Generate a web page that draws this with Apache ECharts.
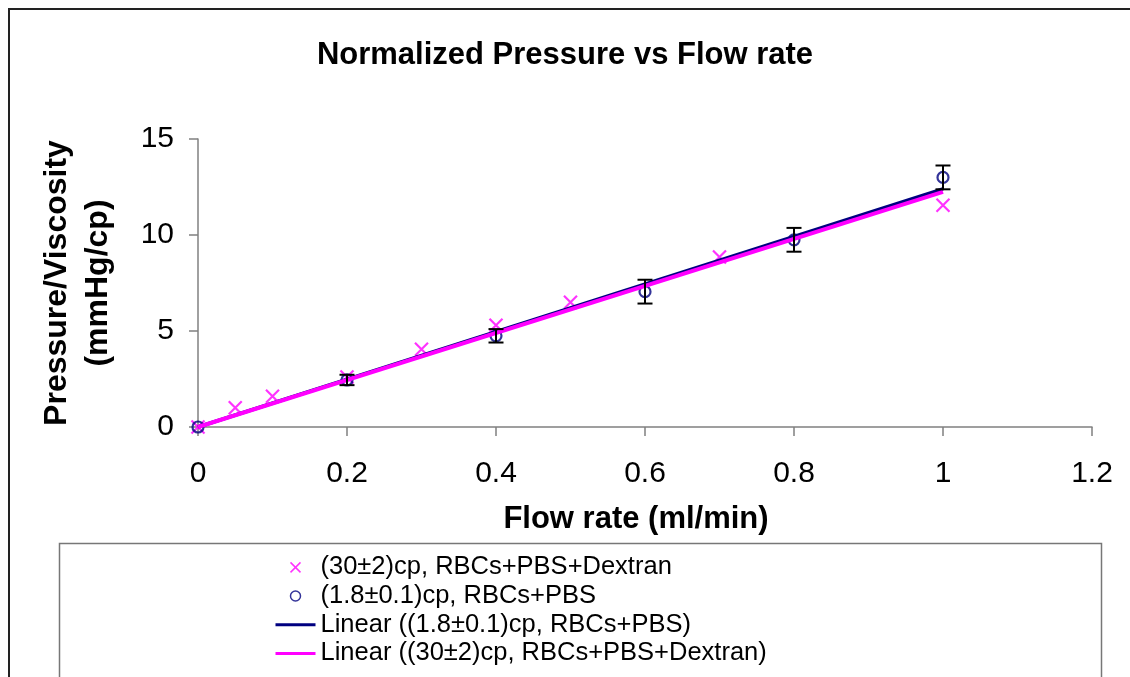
<!DOCTYPE html>
<html>
<head>
<meta charset="utf-8">
<script src="https://cdn.jsdelivr.net/npm/echarts@6/dist/echarts.min.js"></script>
<style>html,body{margin:0;padding:0;background:#fff}#c{width:1130px;height:677px}</style>
</head>
<body>
<div id="c"></div>
<script>
// ---- data ----
const dextranName = '(30±2)cp, RBCs+PBS+Dextran';
const pbsName = '(1.8±0.1)cp, RBCs+PBS';
const pbsTrendName = 'Linear ((1.8±0.1)cp, RBCs+PBS)';
const dextranTrendName = 'Linear ((30±2)cp, RBCs+PBS+Dextran)';

const dextranX = [0, 0.05, 0.1, 0.2, 0.3, 0.4, 0.5, 0.7, 1.0];
const dextranY = [0, 1.0, 1.6, 2.6, 4.05, 5.3, 6.5, 8.85, 11.55];

const pbsX = [0, 0.2, 0.4, 0.6, 0.8, 1.0];
const pbsY = [0, 2.45, 4.75, 7.05, 9.75, 13.0];
const pbsErr = [0, 0.27, 0.35, 0.62, 0.62, 0.62];

const pbsTrendX = [0, 1.0];
const pbsTrendY = [0, 12.4];
const dextranTrendX = [0, 1.0];
const dextranTrendY = [0, 12.25];

const xTicks = [0, 0.2, 0.4, 0.6, 0.8, 1.0, 1.2];
const yTicks = [0, 5, 10, 15];

const PINK = '#FF00FF';
const NAVY = '#000080';
const crossPath = 'path://M0,0L10,10M10,0L0,10';

const zip = (a, b) => a.map((v, i) => [v, b[i]]);

const chart = echarts.init(document.getElementById('c'), null, {renderer: 'canvas'});
chart.setOption({
  animation: false,
  backgroundColor: '#fff',
  textStyle: {fontFamily: 'Liberation Sans, Arial, sans-serif'},
  title: {
    text: 'Normalized Pressure vs Flow rate',
    left: 'center', top: 35,
    textStyle: {fontSize: 31, fontWeight: 'bold', color: '#000', fontFamily: 'Liberation Sans, Arial, sans-serif'}
  },
  graphic: [
    {type: 'rect', shape: {x: 9, y: 9, width: 1140, height: 700}, style: {fill: 'none', stroke: '#222', lineWidth: 2}, silent: true, z: -1},
    {type: 'rect', shape: {x: 59.5, y: 543.5, width: 1042, height: 150}, style: {fill: 'none', stroke: '#777', lineWidth: 1.5}, silent: true, z: -1}
  ],
  grid: {left: 198, right: 38, top: 139, bottom: 250, containLabel: false},
  xAxis: {
    type: 'value', min: xTicks[0], max: xTicks[xTicks.length - 1], interval: 0.2,
    name: 'Flow rate (ml/min)', nameLocation: 'middle', nameGap: 77,
    nameTextStyle: {fontSize: 31, fontWeight: 'bold', color: '#000', padding: [0, 18, 0, 0]},
    axisLine: {lineStyle: {color: '#808080', width: 1.5}},
    axisTick: {length: 9, lineStyle: {color: '#808080', width: 1.5}},
    axisLabel: {fontSize: 30, color: '#000', margin: 32},
    splitLine: {show: false}
  },
  yAxis: {
    type: 'value', min: yTicks[0], max: yTicks[yTicks.length - 1], interval: 5,
    name: 'Pressure/Viscosity\n(mmHg/cp)', nameLocation: 'middle', nameGap: 79, nameRotate: 90,
    nameTextStyle: {fontSize: 32, fontWeight: 'bold', color: '#000', lineHeight: 41, align: 'center'},
    axisLine: {show: true, lineStyle: {color: '#808080', width: 1.5}},
    axisTick: {show: true, length: 9, lineStyle: {color: '#808080', width: 1.5}},
    axisLabel: {fontSize: 30, color: '#000', margin: 24},
    splitLine: {show: false}
  },
  legend: {
    orient: 'vertical', left: 274, top: 553, padding: 0, itemGap: 0,
    itemWidth: 40, itemHeight: 10,
    textStyle: {fontSize: 25.5, color: '#000', lineHeight: 28.7, fontFamily: 'Liberation Sans, Arial, sans-serif'},
    data: [
      {name: dextranName, icon: crossPath, itemStyle: {color: 'rgba(0,0,0,0)', borderColor: PINK, borderWidth: 1.5}},
      {name: pbsName, icon: 'circle', itemStyle: {color: 'rgba(0,0,0,0)', borderColor: NAVY, borderWidth: 1.5}},
      {name: pbsTrendName, itemStyle: {color: 'rgba(0,0,0,0)', borderWidth: 0, opacity: 0}, lineStyle: {width: 3}},
      {name: dextranTrendName, itemStyle: {color: 'rgba(0,0,0,0)', borderWidth: 0, opacity: 0}, lineStyle: {width: 3}}
    ]
  },
  series: [
    {
      name: dextranName, type: 'scatter', symbol: crossPath, symbolSize: 13, symbolKeepAspect: true,
      itemStyle: {color: 'rgba(0,0,0,0)', borderColor: PINK, borderWidth: 2.2},
      data: zip(dextranX, dextranY), z: 2
    },
    {
      name: pbsName, type: 'scatter', symbol: 'circle', symbolSize: 11, symbolKeepAspect: true,
      itemStyle: {color: 'rgba(0,0,0,0)', borderColor: NAVY, borderWidth: 2.2},
      data: zip(pbsX, pbsY), z: 2
    },
    {
      name: pbsTrendName, type: 'line', showSymbol: false, symbol: 'none',
      lineStyle: {color: NAVY, width: 3.5}, itemStyle: {color: NAVY},
      data: zip(pbsTrendX, pbsTrendY), z: 3
    },
    {
      name: dextranTrendName, type: 'line', showSymbol: false, symbol: 'none',
      lineStyle: {color: PINK, width: 4}, itemStyle: {color: PINK},
      data: zip(dextranTrendX, dextranTrendY), z: 4
    },
    {
      name: 'errbars', type: 'custom', z: 5, silent: true,
      data: pbsX.map((x, i) => [x, pbsY[i] - pbsErr[i], pbsY[i] + pbsErr[i]]).filter((d, i) => pbsErr[i] > 0),
      renderItem: function (params, api) {
        const lo = api.coord([api.value(0), api.value(1)]);
        const hi = api.coord([api.value(0), api.value(2)]);
        const hw = 7.5;
        const st = {stroke: '#000', lineWidth: 2, fill: 'none'};
        return {
          type: 'group',
          children: [
            {type: 'line', shape: {x1: lo[0], y1: lo[1], x2: hi[0], y2: hi[1]}, style: st},
            {type: 'line', shape: {x1: lo[0] - hw, y1: lo[1], x2: lo[0] + hw, y2: lo[1]}, style: st},
            {type: 'line', shape: {x1: hi[0] - hw, y1: hi[1], x2: hi[0] + hw, y2: hi[1]}, style: st}
          ]
        };
      }
    }
  ]
});
</script>
</body>
</html>
